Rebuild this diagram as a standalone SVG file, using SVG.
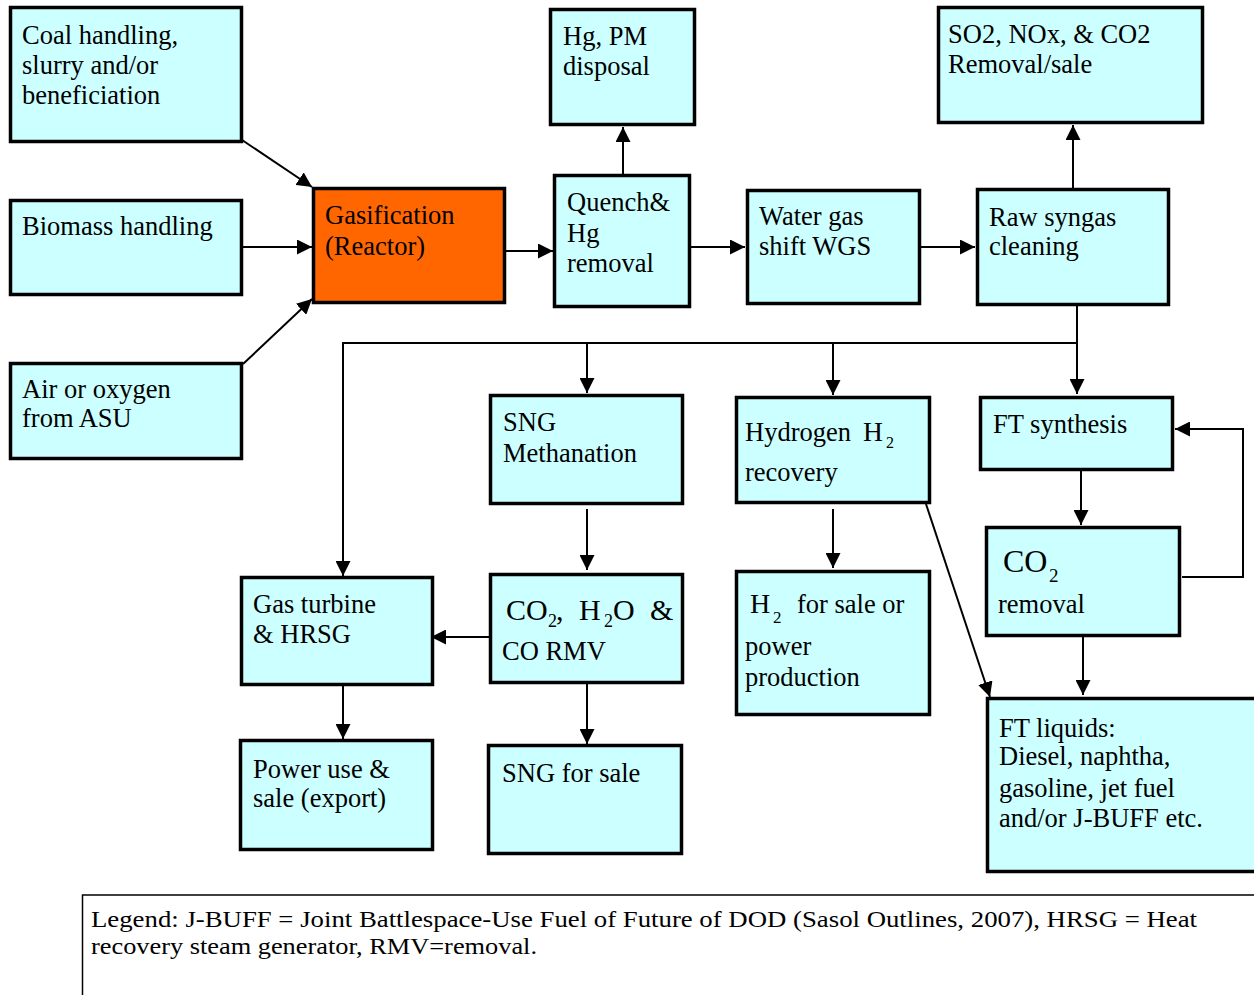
<svg xmlns="http://www.w3.org/2000/svg" width="1254" height="995" viewBox="0 0 1254 995">
<style>
.box{fill:#CCFFFF;stroke:#000;stroke-width:3.5}
.hot{fill:#FF6600;stroke:#000;stroke-width:3.5}
.t{font-family:"Liberation Serif","Times New Roman",serif;font-size:26.5px;fill:#000}
.big{font-size:30px}
.sub{font-size:18px}
.lg{font-family:"Liberation Serif","Times New Roman",serif;font-size:24px;fill:#000}
.c{fill:none;stroke:#000;stroke-width:2}
</style>
<defs>
<marker id="ah" markerUnits="userSpaceOnUse" markerWidth="16" markerHeight="15" refX="15" refY="7.5" orient="auto">
<path d="M0,0 L15,7.5 L0,15 z" fill="#000"/>
</marker>
</defs>
<rect width="1254" height="995" fill="#fff"/>

<g id="connectors">
<line class="c" x1="242" y1="140" x2="312" y2="187" marker-end="url(#ah)"/>
<line class="c" x1="243" y1="247" x2="312" y2="247" marker-end="url(#ah)"/>
<line class="c" x1="243" y1="364" x2="312" y2="299" marker-end="url(#ah)"/>
<line class="c" x1="506" y1="251" x2="553" y2="251" marker-end="url(#ah)"/>
<line class="c" x1="623" y1="174" x2="623" y2="127" marker-end="url(#ah)"/>
<line class="c" x1="691" y1="247" x2="745" y2="247" marker-end="url(#ah)"/>
<line class="c" x1="921" y1="247" x2="975" y2="247" marker-end="url(#ah)"/>
<line class="c" x1="1073" y1="188" x2="1073" y2="125" marker-end="url(#ah)"/>
<line class="c" x1="1077" y1="306" x2="1077" y2="394" marker-end="url(#ah)"/>
<line class="c" x1="342" y1="343" x2="1077" y2="343"/>
<line class="c" x1="343" y1="342" x2="343" y2="576" marker-end="url(#ah)"/>
<line class="c" x1="587" y1="343" x2="587" y2="393" marker-end="url(#ah)"/>
<line class="c" x1="833" y1="343" x2="833" y2="395" marker-end="url(#ah)"/>
<line class="c" x1="587" y1="509" x2="587" y2="570" marker-end="url(#ah)"/>
<line class="c" x1="490" y1="637" x2="431" y2="637" marker-end="url(#ah)"/>
<line class="c" x1="587" y1="684" x2="587" y2="744" marker-end="url(#ah)"/>
<line class="c" x1="343" y1="686" x2="343" y2="739" marker-end="url(#ah)"/>
<line class="c" x1="833" y1="509" x2="833" y2="568" marker-end="url(#ah)"/>
<line class="c" x1="926" y1="504" x2="990" y2="697" marker-end="url(#ah)"/>
<line class="c" x1="1081" y1="471" x2="1081" y2="525" marker-end="url(#ah)"/>
<polyline class="c" points="1182,577 1243,577 1243,429 1175,429" marker-end="url(#ah)"/>
<line class="c" x1="1083" y1="637" x2="1083" y2="695" marker-end="url(#ah)"/>
</g>

<g id="coal">
<rect class="box" x="10.5" y="7.5" width="231" height="134"/>
<text class="t" x="22"><tspan x="22" y="44">Coal handling,</tspan><tspan x="22" y="74">slurry and/or</tspan><tspan x="22" y="104">beneficiation</tspan></text>
</g>
<g id="biomass">
<rect class="box" x="10.5" y="200.5" width="231" height="94"/>
<text class="t" x="22" y="235">Biomass handling</text>
</g>
<g id="air">
<rect class="box" x="10.5" y="363.5" width="231" height="95"/>
<text class="t"><tspan x="22" y="398">Air or oxygen</tspan><tspan x="22" y="427">from ASU</tspan></text>
</g>
<g id="gasification">
<rect class="hot" x="313.5" y="188.5" width="191" height="114"/>
<text class="t"><tspan x="325" y="224">Gasification</tspan><tspan x="325" y="255">(Reactor)</tspan></text>
</g>
<g id="hgpm">
<rect class="box" x="550.5" y="9.5" width="144" height="115"/>
<text class="t"><tspan x="563" y="45">Hg, PM</tspan><tspan x="563" y="75">disposal</tspan></text>
</g>
<g id="quench">
<rect class="box" x="554.5" y="175.5" width="135" height="131"/>
<text class="t"><tspan x="567" y="211">Quench&amp;</tspan><tspan x="567" y="242">Hg</tspan><tspan x="567" y="272">removal</tspan></text>
</g>
<g id="wgs">
<rect class="box" x="747.5" y="190.5" width="172" height="113"/>
<text class="t"><tspan x="759" y="225">Water gas</tspan><tspan x="759" y="255">shift WGS</tspan></text>
</g>
<g id="so2">
<rect class="box" x="938.5" y="7.5" width="264" height="115"/>
<text class="t"><tspan x="948" y="43">SO2, NOx, &amp; CO2</tspan><tspan x="948" y="73">Removal/sale</tspan></text>
</g>
<g id="raw">
<rect class="box" x="977.5" y="189.5" width="191" height="115"/>
<text class="t"><tspan x="989" y="226">Raw syngas</tspan><tspan x="989" y="255">cleaning</tspan></text>
</g>
<g id="sngmeth">
<rect class="box" x="490.5" y="395.5" width="192" height="108"/>
<text class="t"><tspan x="503" y="431">SNG</tspan><tspan x="503" y="462">Methanation</tspan></text>
</g>
<g id="hydrogen">
<rect class="box" x="736.5" y="397.5" width="193" height="105"/>
<text class="t" x="745" y="441">Hydrogen</text>
<text class="t" x="863" y="441" style="font-size:27.5px">H</text>
<text class="t sub" x="886" y="448" style="font-size:16px">2</text>
<text class="t" x="745" y="481">recovery</text>
</g>
<g id="ftsyn">
<rect class="box" x="980.5" y="397.5" width="192" height="72"/>
<text class="t" x="993" y="433">FT synthesis</text>
</g>
<g id="co2rem">
<rect class="box" x="986.5" y="527.5" width="193" height="108"/>
<text class="t" x="1003" y="572" style="font-size:32px">CO</text>
<text class="t" x="1049" y="582" style="font-size:19px">2</text>
<text class="t" x="998" y="613">removal</text>
</g>
<g id="gasturbine">
<rect class="box" x="241.5" y="577.5" width="191" height="107"/>
<text class="t"><tspan x="253" y="613">Gas turbine</tspan><tspan x="253" y="643">&amp; HRSG</tspan></text>
</g>
<g id="co2rmv">
<rect class="box" x="490.5" y="574.5" width="192" height="108"/>
<text class="t big" x="506" y="620">CO</text>
<text class="t sub" x="548" y="627">2</text>
<text class="t big" x="556" y="620">,</text>
<text class="t big" x="579" y="620">H</text>
<text class="t sub" x="604" y="627">2</text>
<text class="t big" x="613" y="620">O</text>
<text class="t big" x="650" y="620">&amp;</text>
<text class="t" x="502" y="660">CO RMV</text>
</g>
<g id="h2sale">
<rect class="box" x="736.5" y="571.5" width="193" height="143"/>
<text class="t" x="750" y="613" style="font-size:28px">H</text>
<text class="t" x="773" y="623" style="font-size:17px">2</text>
<text class="t" x="797" y="613">for sale or</text>
<text class="t"><tspan x="745" y="655">power</tspan><tspan x="745" y="686">production</tspan></text>
</g>
<g id="power">
<rect class="box" x="240.5" y="740.5" width="192" height="109"/>
<text class="t"><tspan x="253" y="778">Power use &amp;</tspan><tspan x="253" y="807">sale (export)</tspan></text>
</g>
<g id="sngsale">
<rect class="box" x="488.5" y="745.5" width="193" height="108"/>
<text class="t" x="502" y="782">SNG for sale</text>
</g>
<g id="ftliquids">
<rect class="box" x="987.5" y="698.5" width="270" height="173"/>
<text class="t"><tspan x="999" y="737">FT liquids:</tspan><tspan x="999" y="765">Diesel, naphtha,</tspan><tspan x="999" y="797">gasoline, jet fuel</tspan><tspan x="999" y="827">and/or J-BUFF etc.</tspan></text>
</g>
<g id="legend">
<rect x="82.5" y="895" width="1180" height="120" fill="#fff" stroke="#000" stroke-width="1.5"/>
<text class="lg" x="91" y="927" textLength="1106" lengthAdjust="spacingAndGlyphs">Legend: J-BUFF = Joint Battlespace-Use Fuel of Future of DOD  (Sasol Outlines, 2007), HRSG = Heat</text>
<text class="lg" x="91" y="954" textLength="446" lengthAdjust="spacingAndGlyphs">recovery steam generator, RMV=removal.</text>
</g>
</svg>
